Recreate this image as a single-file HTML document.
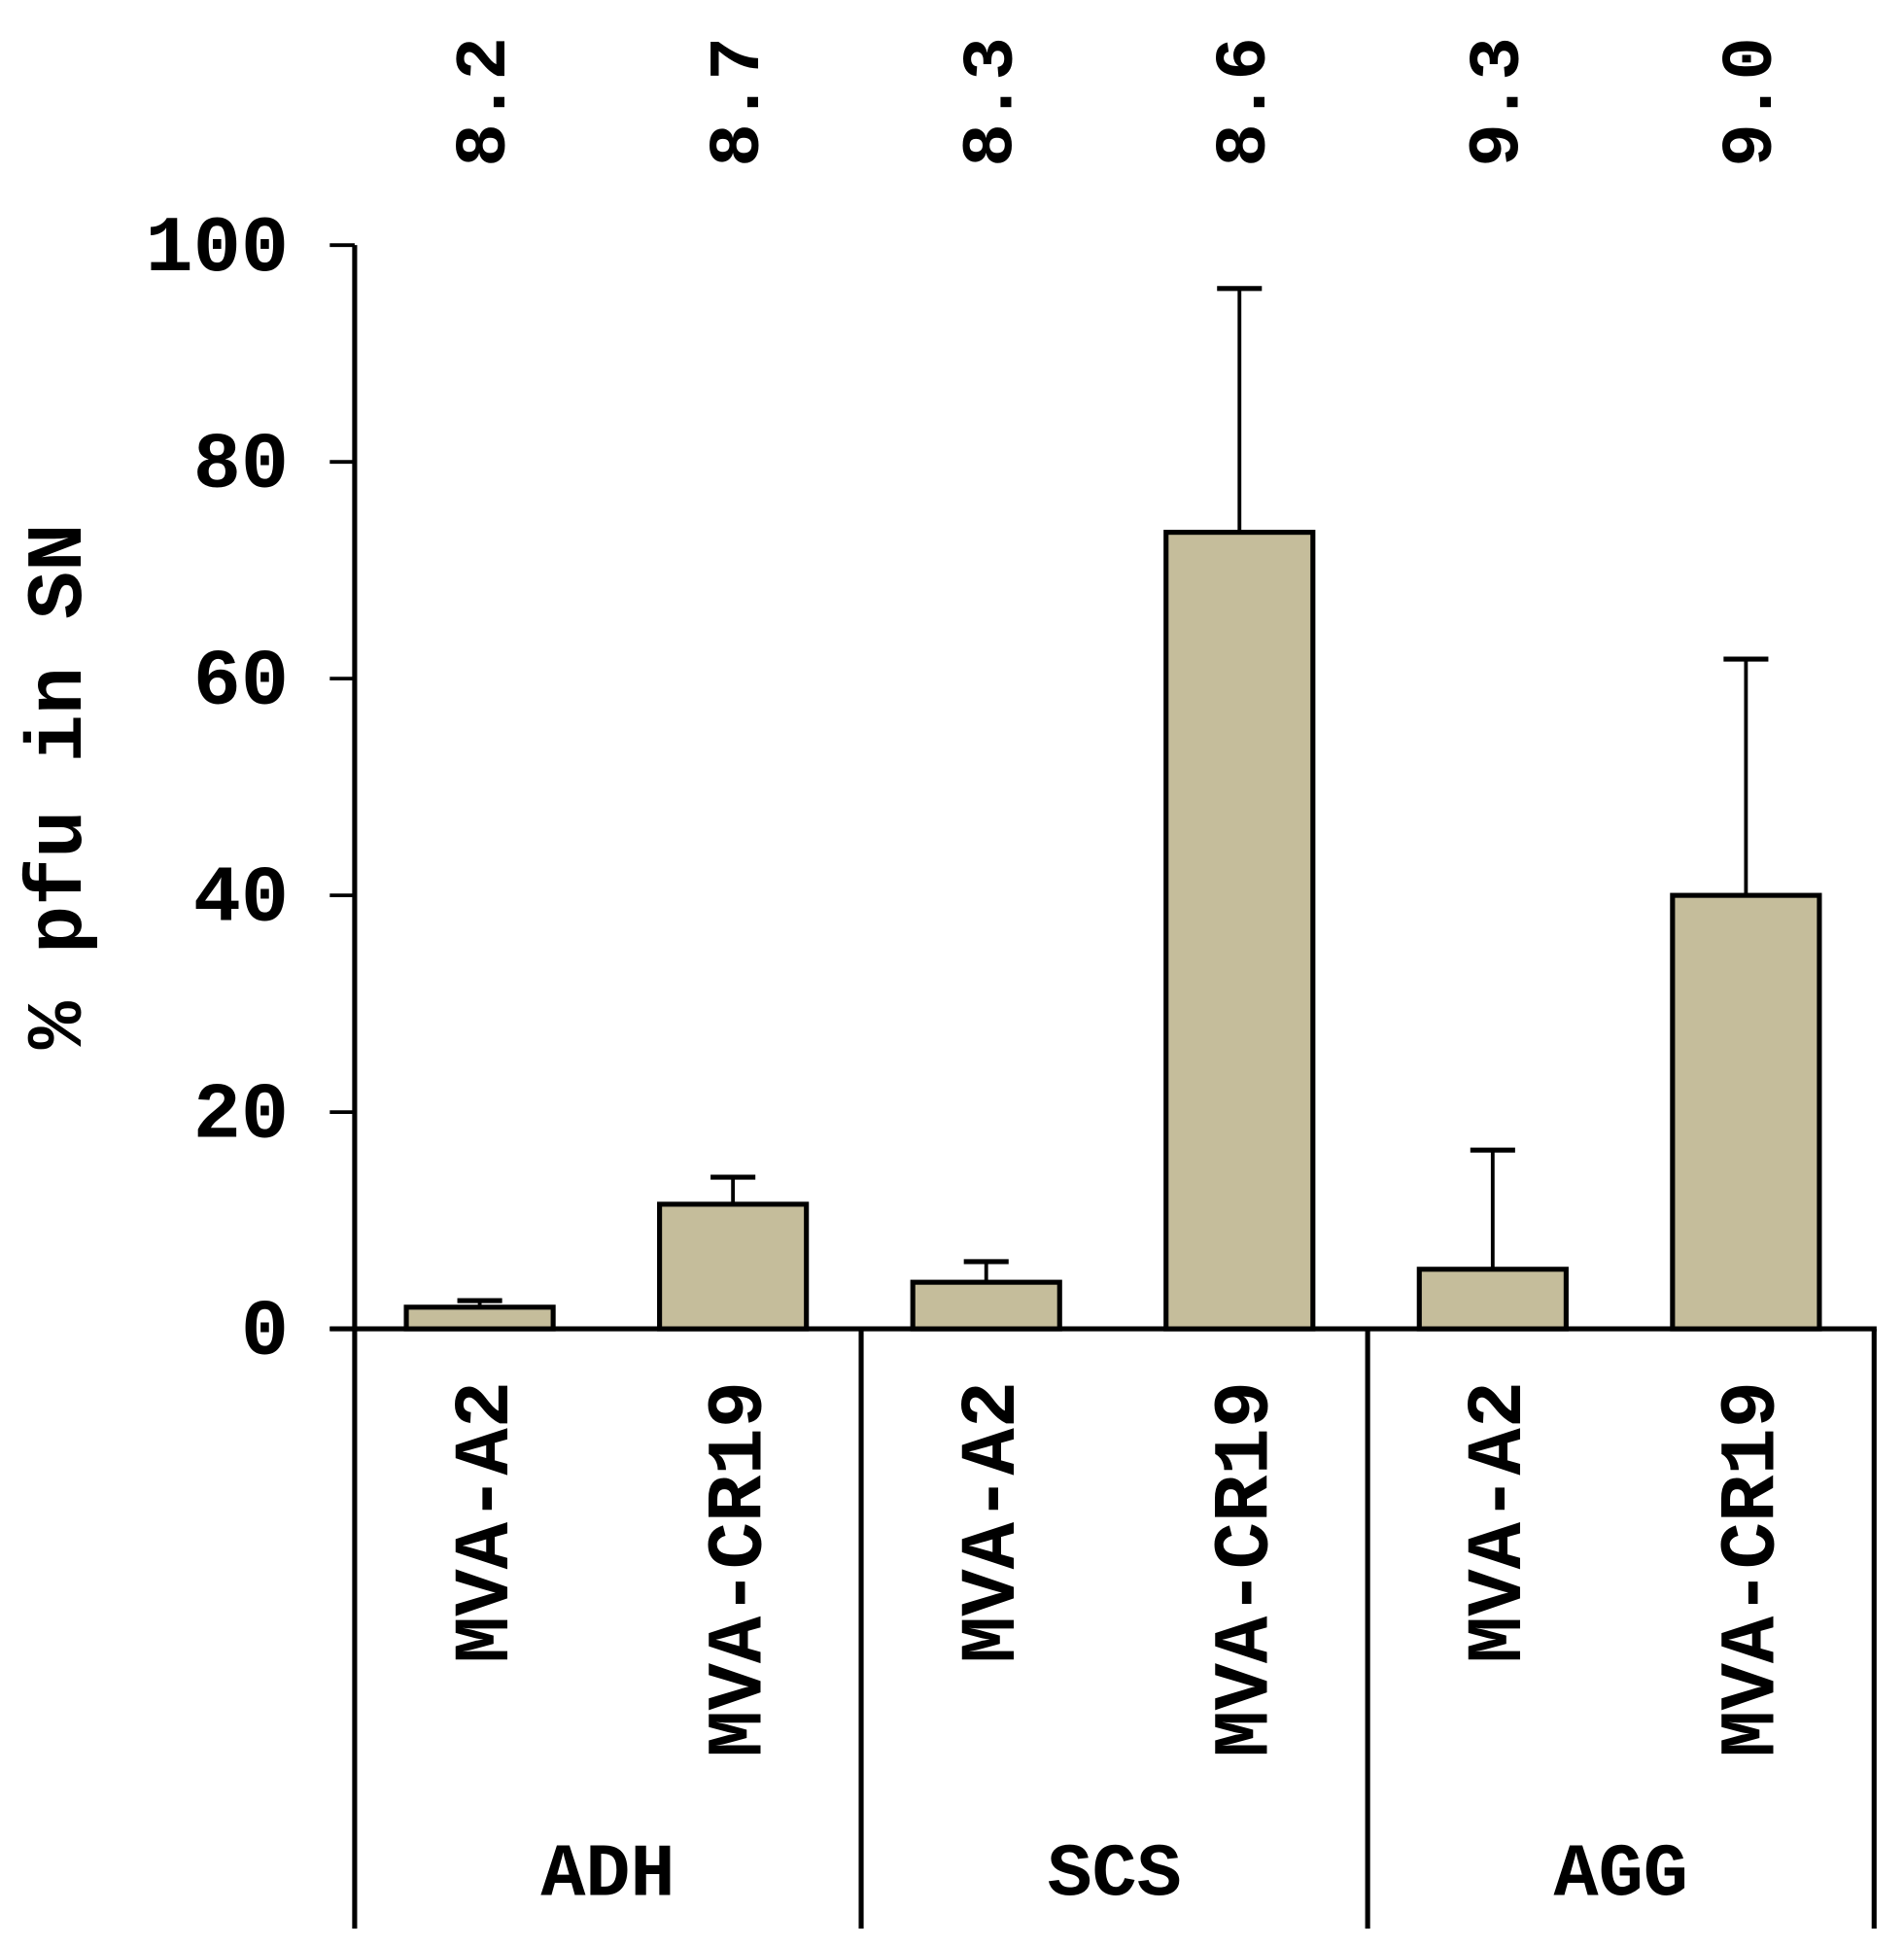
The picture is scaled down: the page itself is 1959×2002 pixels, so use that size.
<!DOCTYPE html>
<html><head><meta charset="utf-8"><style>html,body{margin:0;padding:0;background:#fff}svg{display:block}text{font-family:"Liberation Mono",monospace;font-weight:bold;fill:#000}</style></head>
<body>
<svg id="chart" width="1959" height="2002" viewBox="0 0 1530 1564" preserveAspectRatio="none" xmlns="http://www.w3.org/2000/svg"></svg>
<script>
const categories=["MVA-A2","MVA-CR19","MVA-A2","MVA-CR19","MVA-A2","MVA-CR19"];
const groups=["ADH","SCS","AGG"];
const values=[2,11.5,4.3,73.5,5.5,40];
const errors=[0.6,2.5,1.9,22.5,11,21.8];
const topLabels=["8.2","8.7","8.3","8.6","9.3","9.0"];
const yTicks=[0,20,40,60,80,100];

const NS="http://www.w3.org/2000/svg";
const svg=document.getElementById('chart');
const x0=285,y0=1068,yTop=197,slot=203.5,bw=118,firstCenter=385.5;
function y(v){return y0-(v/100)*(y0-yTop);}
function xc(i){return firstCenter+i*slot;}
function mk(tag,attrs,parent){const e=document.createElementNS(NS,tag);for(const k in attrs)e.setAttribute(k,attrs[k]);(parent||svg).appendChild(e);return e;}

let ax=mk('line',{x1:x0,y1:yTop,x2:x0,y2:1550,stroke:'#000','stroke-width':4});


yTicks.forEach(t=>{
  let l=mk('line',{x1:265,y1:y(t),x2:x0,y2:y(t),stroke:'#000','stroke-width':3});
  
  
  let tx=mk('text',{x:232,y:y(t)+20,'text-anchor':'end','font-size':64});
  tx.textContent=t;
  
  
});
let xa=mk('line',{x1:265,y1:y0,x2:1508,y2:y0,stroke:'#000','stroke-width':4});


[1,2,3].forEach(g=>{
  const gx=x0+g*slot*2;
  let d=mk('line',{x1:gx,y1:y0,x2:gx,y2:1550,stroke:'#000','stroke-width':4});
  
  
});
groups.forEach((g,i)=>{
  let t=mk('text',{x:x0+slot*(2*i+1),y:1523,'text-anchor':'middle','font-size':60});
  t.textContent=g;
  
  
});
values.forEach((v,i)=>{
  const cx=xc(i);
  let e=mk('line',{x1:cx,y1:y(v),x2:cx,y2:y(v+errors[i]),stroke:'#000','stroke-width':3});
  
  
  let c=mk('line',{x1:cx-18,y1:y(v+errors[i]),x2:cx+18,y2:y(v+errors[i]),stroke:'#000','stroke-width':4});
  
  
  let r=mk('rect',{x:cx-bw/2,y:y(v),width:bw,height:y0-y(v),fill:'#c5bd9b',stroke:'#000','stroke-width':4});
  
  
  let cl=mk('text',{transform:`translate(${cx+22},1110) rotate(-90)`,'text-anchor':'end','font-size':63});
  cl.textContent=categories[i];
  
  
  let tl=mk('text',{transform:`translate(${cx+20},82) rotate(-90)`,'text-anchor':'middle','font-size':58});
  tl.textContent=topLabels[i];
  
  
});
let yt=mk('text',{transform:'translate(65,632) rotate(-90)','text-anchor':'middle','font-size':64});
yt.textContent='% pfu in SN';


</script>
</body></html>
